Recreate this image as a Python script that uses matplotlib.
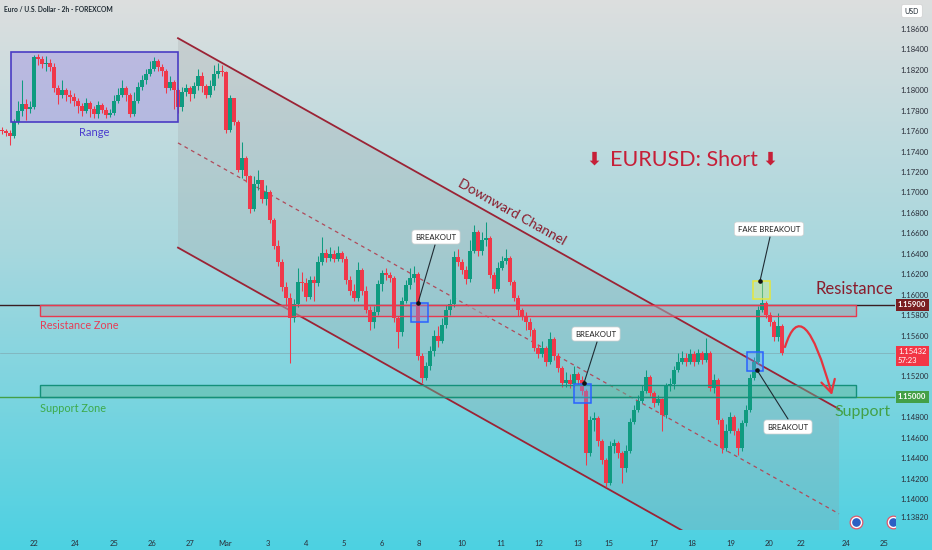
import numpy as np
import matplotlib
matplotlib.use("Agg")
import matplotlib.pyplot as plt
from matplotlib.patches import Rectangle, Polygon, FancyArrowPatch
from matplotlib.path import Path
from matplotlib.transforms import blended_transform_factory

plt.rcParams['font.family'] = ['Lato', 'DejaVu Sans']

# ---------------- data (EUR/USD 2h candles) ----------------
first_open = 1.1761
closes = [
    1.1760, 1.1758, 1.1755, 1.1769, 1.1780, 1.1787, 1.1782, 1.1784, 1.1833, 1.1831,
    1.1826, 1.1827, 1.1823, 1.1802, 1.1795, 1.1800, 1.1795, 1.1793, 1.1790, 1.1785,
    1.1780, 1.1788, 1.1782, 1.1777, 1.1786, 1.1781, 1.1776, 1.1778, 1.1790, 1.1795,
    1.1802, 1.1795, 1.1777, 1.1790, 1.1803, 1.1810, 1.1816, 1.1821, 1.1829, 1.1823,
    1.1819, 1.1802, 1.1808, 1.1800, 1.1784, 1.1798, 1.1802, 1.1796, 1.1804, 1.1814,
    1.1804, 1.1795, 1.1804, 1.1816, 1.1819, 1.1818, 1.1761, 1.1792, 1.1769, 1.1722,
    1.1734, 1.1716, 1.1684, 1.1708, 1.1712, 1.1694, 1.1700, 1.1673, 1.1648, 1.1632,
    1.1607, 1.1597, 1.1577, 1.1591, 1.1612, 1.1611, 1.1598, 1.1614, 1.1611, 1.1632,
    1.1641, 1.1636, 1.1640, 1.1635, 1.1641, 1.1635, 1.1614, 1.1604, 1.1597, 1.1624,
    1.1604, 1.1585, 1.1573, 1.1583, 1.1610, 1.1621, 1.1619, 1.1616, 1.1577, 1.1563,
    1.1594, 1.1609, 1.1616, 1.1620, 1.1540, 1.1518, 1.1530, 1.1545, 1.1560, 1.1555,
    1.1570, 1.1585, 1.1591, 1.1637, 1.1632, 1.1624, 1.1615, 1.1643, 1.1661, 1.1643,
    1.1653, 1.1655, 1.1619, 1.1606, 1.1626, 1.1633, 1.1636, 1.1612, 1.1597, 1.1585,
    1.1579, 1.1573, 1.1565, 1.1548, 1.1542, 1.1548, 1.1534, 1.1557, 1.1540, 1.1528,
    1.1514, 1.1516, 1.1513, 1.1522, 1.1516, 1.1506, 1.1445, 1.1477, 1.1479, 1.1457,
    1.1438, 1.1416, 1.1452, 1.1455, 1.1445, 1.1430, 1.1447, 1.1475, 1.1487, 1.1496,
    1.1506, 1.1519, 1.1504, 1.1494, 1.1498, 1.1482, 1.1511, 1.1513, 1.1526, 1.1534,
    1.1538, 1.1534, 1.1542, 1.1534, 1.1543, 1.1536, 1.1543, 1.1509, 1.1516, 1.1477,
    1.1450, 1.1467, 1.1480, 1.1467, 1.1450, 1.1474, 1.1487, 1.1518, 1.1534, 1.1585,
    1.1592, 1.1580, 1.1573, 1.1559, 1.1569, 1.15432,
]
highs = [
    1.1764, 1.1762, 1.1761, 1.1772, 1.1790, 1.1810, 1.1791, 1.1790, 1.1835, 1.1836,
    1.1834, 1.1834, 1.1831, 1.1827, 1.1805, 1.1810, 1.1802, 1.1800, 1.1797, 1.1792,
    1.1788, 1.1792, 1.1790, 1.1785, 1.1790, 1.1788, 1.1784, 1.1782, 1.1795, 1.1802,
    1.1810, 1.1804, 1.1797, 1.1798, 1.1808, 1.1815, 1.1821, 1.1829, 1.1833, 1.1831,
    1.1826, 1.1821, 1.1814, 1.1810, 1.1802, 1.1803, 1.1806, 1.1804, 1.1808, 1.1821,
    1.1818, 1.1806, 1.1810, 1.1825, 1.1827, 1.1825, 1.1819, 1.1795, 1.1792, 1.1771,
    1.1749, 1.1736, 1.1717, 1.1716, 1.1722, 1.1712, 1.1707, 1.1702, 1.1675, 1.1653,
    1.1635, 1.1612, 1.1602, 1.1596, 1.1626, 1.1622, 1.1616, 1.1618, 1.1618, 1.1638,
    1.1656, 1.1645, 1.1647, 1.1644, 1.1648, 1.1643, 1.1638, 1.1618, 1.1610, 1.1632,
    1.1626, 1.1608, 1.1589, 1.1589, 1.1614, 1.1624, 1.1626, 1.1622, 1.1618, 1.1579,
    1.1598, 1.1614, 1.1626, 1.1628, 1.1622, 1.1543, 1.1534, 1.1550, 1.1565, 1.1569,
    1.1577, 1.1590, 1.1596, 1.1643, 1.1645, 1.1635, 1.1628, 1.1653, 1.1668, 1.1663,
    1.1661, 1.1671, 1.1657, 1.1622, 1.1632, 1.1638, 1.1645, 1.1638, 1.1614, 1.1600,
    1.1587, 1.1583, 1.1577, 1.1567, 1.1551, 1.1555, 1.1550, 1.1563, 1.1559, 1.1543,
    1.1530, 1.1524, 1.1522, 1.1530, 1.1524, 1.1520, 1.1508, 1.1481, 1.1485, 1.1481,
    1.1459, 1.1440, 1.1457, 1.1459, 1.1457, 1.1447, 1.1453, 1.1479, 1.1492, 1.1502,
    1.1512, 1.1526, 1.1521, 1.1506, 1.1502, 1.1499, 1.1514, 1.1518, 1.1530, 1.1543,
    1.1545, 1.1543, 1.1547, 1.1545, 1.1547, 1.1545, 1.1558, 1.1545, 1.1522, 1.1518,
    1.1479, 1.1473, 1.1485, 1.1482, 1.1469, 1.1477, 1.1492, 1.1522, 1.1539, 1.1589,
    1.1612, 1.1594, 1.1583, 1.1575, 1.1582, 1.1571,
]
lows = [
    1.1757, 1.1755, 1.1746, 1.1753, 1.1767, 1.1775, 1.1771, 1.1778, 1.1782, 1.1825,
    1.1822, 1.1819, 1.1819, 1.1798, 1.1787, 1.1792, 1.1790, 1.1788, 1.1785, 1.1778,
    1.1775, 1.1778, 1.1774, 1.1773, 1.1773, 1.1778, 1.1773, 1.1774, 1.1776, 1.1788,
    1.1793, 1.1790, 1.1774, 1.1775, 1.1788, 1.1800, 1.1806, 1.1814, 1.1819, 1.1819,
    1.1814, 1.1797, 1.1800, 1.1782, 1.1778, 1.1780, 1.1794, 1.1790, 1.1792, 1.1800,
    1.1798, 1.1792, 1.1793, 1.1800, 1.1812, 1.1814, 1.1758, 1.1759, 1.1766, 1.1720,
    1.1714, 1.1710, 1.1680, 1.1682, 1.1702, 1.1690, 1.1688, 1.1670, 1.1645, 1.1628,
    1.1604, 1.1589, 1.1533, 1.1573, 1.1588, 1.1604, 1.1594, 1.1596, 1.1594, 1.1608,
    1.1629, 1.1632, 1.1633, 1.1632, 1.1633, 1.1632, 1.1610, 1.1600, 1.1594, 1.1594,
    1.1600, 1.1582, 1.1565, 1.1567, 1.1580, 1.1604, 1.1614, 1.1612, 1.1573, 1.1548,
    1.1560, 1.1592, 1.1606, 1.1612, 1.1536, 1.1514, 1.1516, 1.1526, 1.1540, 1.1549,
    1.1553, 1.1567, 1.1580, 1.1588, 1.1628, 1.1620, 1.1610, 1.1612, 1.1641, 1.1638,
    1.1639, 1.1648, 1.1616, 1.1602, 1.1604, 1.1624, 1.1630, 1.1609, 1.1594, 1.1579,
    1.1575, 1.1565, 1.1560, 1.1545, 1.1538, 1.1539, 1.1530, 1.1532, 1.1536, 1.1524,
    1.1510, 1.1510, 1.1509, 1.1510, 1.1512, 1.1502, 1.1433, 1.1442, 1.1467, 1.1452,
    1.1434, 1.1412, 1.1414, 1.1445, 1.1440, 1.1416, 1.1426, 1.1445, 1.1473, 1.1485,
    1.1494, 1.1504, 1.1501, 1.1490, 1.1492, 1.1467, 1.1479, 1.1506, 1.1508, 1.1524,
    1.1532, 1.1530, 1.1532, 1.1530, 1.1532, 1.1532, 1.1534, 1.1506, 1.1504, 1.1473,
    1.1445, 1.1447, 1.1465, 1.1463, 1.1443, 1.1447, 1.1471, 1.1485, 1.1516, 1.1532,
    1.1583, 1.1577, 1.1569, 1.1555, 1.1555, 1.1541,
]

date_labels = ['22', '24', '25', '26', '27', 'Mar', '3', '4', '5', '6', '8', '10', '11',
               '12', '13', '15', '17', '18', '19', '20', '22', '24', '25']
price_ticks = [1.186, 1.184, 1.182, 1.180, 1.178, 1.176, 1.174, 1.172, 1.170, 1.168,
               1.166, 1.164, 1.162, 1.160, 1.158, 1.156, 1.152, 1.148, 1.146, 1.144,
               1.142, 1.140, 1.1382]

resistance_level = 1.1590
support_level = 1.1500
resistance_zone = (1.1579, 1.1590)
support_zone = (1.1500, 1.1512)
range_box = (1.1769, 1.1837)
channel_bars = [44.0, 209.25]
channel_upper = [1.1851, 1.1488]
channel_lower = [1.1646, 1.1283]
current_price = 1.15432

# ---------------- layout helpers ----------------
W, H = 932, 550
AX_R, AX_B = 895, 530


def PX(x, y):
    """reference pixel position -> data coordinates (layout only)"""
    return (x - 2) / 4.0, 1.186 - (y - 29) / 10217.0


GREEN = '#0f9b80'
RED = '#f0384a'

fig = plt.figure(figsize=(W / 100, H / 100), dpi=100)

# background gradient
bg = fig.add_axes([0, 0, 1, 1], zorder=0)
t = np.linspace(0, 1, 256)
stops = [0.0, 0.45, 1.0]
cols = np.array([[0.865, 0.872, 0.872], [0.66, 0.845, 0.87], [0.30, 0.82, 0.885]])
grad = np.stack([np.interp(t, stops, cols[:, k]) for k in range(3)], axis=1)[:, None, :]
bg.imshow(grad, aspect='auto', extent=[0, 1, 0, 1], interpolation='bilinear')
bg.set_xlim(0, 1); bg.set_ylim(0, 1)
bg.axis('off')

ax = fig.add_axes([0, (H - AX_B) / H, AX_R / W, AX_B / H], zorder=1)
ax.set_facecolor('none')
ax.set_xlim(PX(0, 0)[0], PX(AX_R, 0)[0])
ax.set_ylim(PX(0, AX_B)[1], PX(0, 0)[1])
for s in ax.spines.values():
    s.set_visible(False)

# axes ticks
ax.yaxis.tick_right()
ax.set_yticks(price_ticks)
ax.set_yticklabels([f'{v:.5f}' for v in price_ticks])
ax.tick_params(axis='y', length=0, pad=4, labelsize=5.5, labelcolor='#2a2e39')
date_px = [34, 75, 114, 152, 190, 225, 268, 306, 344, 382, 419, 462, 501, 539, 578,
           609, 654, 692, 731, 769, 801, 846, 884]
ax.set_xticks([PX(x, 0)[0] for x in date_px])
ax.set_xticklabels(date_labels)
ax.tick_params(axis='x', length=0, pad=7, labelsize=5.5, labelcolor='#2a2e39')

# horizontal levels
ax.axhline(resistance_level, color='#3a1d22', lw=1.0, zorder=1)
ax.axhline(support_level, color='#43a047', lw=1.0, zorder=1)
ax.axhline(current_price, color='#7d9aa2', lw=0.5, alpha=0.7, zorder=1)

# channel shading and lines
ax.add_patch(Polygon([(channel_bars[0], channel_upper[0]), (channel_bars[1], channel_upper[1]),
                      (channel_bars[1], channel_lower[1]), (channel_bars[0], channel_lower[0])],
                     closed=True, fc='#9a9a9a', alpha=0.22, ec='none', zorder=1))
ax.plot(channel_bars, channel_upper, color='#9b2335', lw=1.3, zorder=2)
ax.plot(channel_bars, channel_lower, color='#9b2335', lw=1.3, zorder=2)
ax.plot(channel_bars, [(a + b) / 2 for a, b in zip(channel_upper, channel_lower)],
        color='#b04a5a', lw=0.9, ls=(0, (3, 3)), zorder=2)

# zones
zx0, zx1 = PX(40, 0)[0], PX(856, 0)[0]
ax.add_patch(Rectangle((zx0, resistance_zone[0]), zx1 - zx0, resistance_zone[1] - resistance_zone[0],
                       fc='#a4a4b0', alpha=0.6, ec='none', zorder=2))
ax.add_patch(Rectangle((zx0, resistance_zone[0]), zx1 - zx0, resistance_zone[1] - resistance_zone[0],
                       fc='none', ec='#e8394f', lw=1.0, zorder=5))
ax.add_patch(Rectangle((zx0, support_zone[0]), zx1 - zx0, support_zone[1] - support_zone[0],
                       fc='#5cb89a', alpha=0.45, ec='none', zorder=2))
ax.add_patch(Rectangle((zx0, support_zone[0]), zx1 - zx0, support_zone[1] - support_zone[0],
                       fc='none', ec='#14907a', lw=1.0, zorder=5))

# range box
rx0, rx1 = PX(11, 0)[0], PX(178, 0)[0]
ax.add_patch(Rectangle((rx0, range_box[0]), rx1 - rx0, range_box[1] - range_box[0],
                       fc='#a99de2', alpha=0.55, ec='none', zorder=2))
ax.add_patch(Rectangle((rx0, range_box[0]), rx1 - rx0, range_box[1] - range_box[0],
                       fc='none', ec='#4a3cc4', lw=1.2, zorder=5))

# candles
c = np.array(closes)
o = np.r_[first_open, c[:-1]]
hi = np.array(highs)
lo = np.array(lows)
idx = np.arange(len(c))
col = np.where(c >= o, GREEN, RED)
ax.vlines(idx, lo, hi, colors=col, lw=0.75, zorder=3)
ax.bar(idx, np.maximum(np.abs(c - o), 0.00004), bottom=np.minimum(o, c), width=0.76,
       color=col, linewidth=0, zorder=4)

# breakout squares
def square(x0, y0, x1, y1, ec, fc):
    a = PX(x0, y1)
    b = PX(x1, y0)
    ax.add_patch(Rectangle(a, b[0] - a[0], b[1] - a[1], fc=fc, alpha=0.35, ec='none', zorder=6))
    ax.add_patch(Rectangle(a, b[0] - a[0], b[1] - a[1], fc='none', ec=ec, lw=1.1, zorder=6))

square(411, 303, 428, 322, '#2a62ff', '#6d9dff')
square(574, 384, 591, 403, '#2a62ff', '#6d9dff')
square(747, 352, 763, 371, '#2a62ff', '#6d9dff')
square(753, 281, 770, 299, '#e6e63c', '#f3f37a')

# callouts
def callout(text, box_xy, start, end):
    ax.plot([PX(*start)[0], PX(*end)[0]], [PX(*start)[1], PX(*end)[1]], color='#1f2b33', lw=0.8, zorder=7)
    ax.plot(*PX(*end), 'o', ms=2.3, color='#111111', zorder=8)
    ax.text(*PX(*box_xy), text, ha='center', va='center', fontsize=5.6, color='#1e1e1e', zorder=9,
            bbox=dict(boxstyle='round,pad=0.45,rounding_size=0.35', fc='white', ec='#d0d0d0', lw=0.5))

callout('BREAKOUT', (436, 237), (435, 245), (418, 303))
callout('BREAKOUT', (596, 334), (597, 342), (584, 383))
callout('BREAKOUT', (788, 427), (788, 419), (757, 370))
callout('FAKE BREAKOUT', (769, 229), (770, 237), (760, 281))

# curved projection arrow
arrow_path = Path([PX(785, 347), PX(803, 289), PX(832, 395)], [Path.MOVETO, Path.CURVE3, Path.CURVE3])
ax.add_patch(FancyArrowPatch(path=arrow_path, arrowstyle='->,head_length=0.9,head_width=0.5',
                             mutation_scale=10, color='#e5343f', lw=1.6, zorder=8))

# texts
ax.text(*PX(94, 133), 'Range', ha='center', va='center', fontsize=8, color='#4b3ccf', zorder=9)
ax.text(*PX(40, 325), 'Resistance Zone', ha='left', va='center', fontsize=7.8, color='#e63e57', zorder=9)
ax.text(*PX(40, 408), 'Support Zone', ha='left', va='center', fontsize=7.8, color='#3daa4a', zorder=9)
ax.text(*PX(854, 289), 'Resistance', ha='center', va='center', fontsize=12, color='#8a1c2c', zorder=9)
ax.text(*PX(863, 412), 'Support', ha='center', va='center', fontsize=11.5, color='#43a047', zorder=9)
ax.text(*PX(684, 160), 'EURUSD: Short', ha='center', va='center', fontsize=15.5, color='#c61f38', zorder=9)
ax.text(*PX(594, 160), '⬇', ha='center', va='center', fontsize=13, color='#c61f38', zorder=9,
        family=['DejaVu Sans'], fontweight='bold')
ax.text(*PX(770, 160), '⬇', ha='center', va='center', fontsize=13, color='#c61f38', zorder=9,
        family=['DejaVu Sans'], fontweight='bold')
ax.text(*PX(512, 212), 'Downward Channel', ha='center', va='center', fontsize=10, color='#8a1c2c',
        rotation=-29.3, rotation_mode='anchor', zorder=9)

# bottom icons
for x in (856, 893):
    ax.plot(*PX(x, 522), 'o', ms=9, color='#e0566a', zorder=9, clip_on=True)
    ax.plot(*PX(x, 522), 'o', ms=7.2, color='white', zorder=9, clip_on=True)
    ax.plot(*PX(x, 522), 'o', ms=5.2, color='#2b5fc4', zorder=9, clip_on=True)

# price labels on the scale
tr = blended_transform_factory(ax.transAxes, ax.transData)
ax.text(1.0 + 3 / AX_R, resistance_level, '1.15900', transform=tr, ha='left', va='center',
        fontsize=5.5, color='white', fontweight='bold', zorder=10, clip_on=False,
        bbox=dict(boxstyle='square,pad=0.3', fc='#7a1f22', ec='none'))
ax.text(1.0 + 3 / AX_R, PX(0, 356)[1], f'{current_price:.5f}\n57:23', transform=tr, ha='left',
        va='center', fontsize=5.5, color='white', zorder=10, clip_on=False, linespacing=1.3,
        bbox=dict(boxstyle='square,pad=0.3', fc='#f23645', ec='none'))
ax.text(1.0 + 3 / AX_R, support_level, '1.15000', transform=tr, ha='left', va='center',
        fontsize=5.5, color='white', fontweight='bold', zorder=10, clip_on=False,
        bbox=dict(boxstyle='square,pad=0.3', fc='#43a047', ec='none'))

# header texts
fig.text(4 / W, 1 - 10 / H, 'Euro / U.S. Dollar - 2h - FOREXCOM', ha='left', va='center',
         fontsize=4.9, color='#1f2a33', fontweight='bold', zorder=5)
fig.text(912 / W, 1 - 11 / H, 'USD', ha='center', va='center', fontsize=5, color='#1f2a33', zorder=5,
         bbox=dict(boxstyle='round,pad=0.45,rounding_size=0.3', fc='white', ec='#d0d0d0', lw=0.5))

fig.savefig('out.png', dpi=100)
